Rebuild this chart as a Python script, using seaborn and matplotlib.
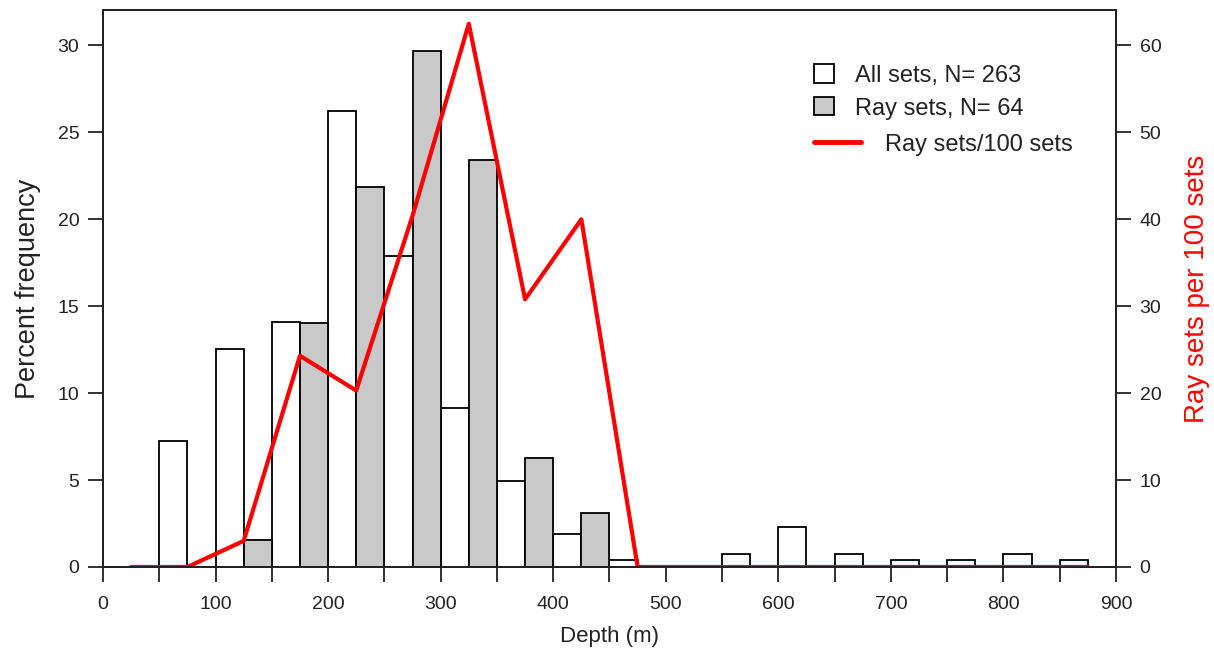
import matplotlib.pyplot as plt
import pandas as pd
import seaborn as sns
from matplotlib.lines import Line2D
from matplotlib.patches import Patch
from matplotlib.ticker import MultipleLocator

# bins are 50 m wide; bar positions are the bin starts
all_bins = [50, 100, 150, 200, 250, 300, 350, 400, 450, 550, 600, 650, 700, 750, 800, 850]
all_pct = [7.22, 12.55, 14.07, 26.24, 17.87, 9.13, 4.94, 1.90, 0.38, 0.76, 2.28, 0.76, 0.38, 0.38, 0.76, 0.38]

ray_bins = [100, 150, 200, 250, 300, 350, 400]
ray_pct = [1.56, 14.06, 21.88, 29.69, 23.44, 6.25, 3.13]

# ray sets per 100 sets, at bin mid points
rate_depth = [25, 75, 125, 175, 225, 275, 325, 375, 425, 475, 525, 575, 625, 675, 725, 775, 825, 875]
rate_val = [0, 0, 3.0, 24.3, 20.3, 40.4, 62.5, 30.8, 40.0, 0, 0, 0, 0, 0, 0, 0, 0, 0]

GREY = "#c9c9c9"
INK = "#222222"

sns.set_style("ticks")
plt.rcParams["font.family"] = ["Liberation Sans", "DejaVu Sans"]

fig = plt.figure(figsize=(12.14, 6.57), dpi=100)
ax = fig.add_axes([0.0848, 0.137, 0.8345, 0.848])

df_all = pd.DataFrame({"x": [b + 12.5 for b in all_bins], "y": all_pct})
df_ray = pd.DataFrame({"x": [b + 37.5 for b in ray_bins], "y": ray_pct})

sns.barplot(data=df_all, x="x", y="y", native_scale=True, width=0.5,
            color="white", edgecolor="black", linewidth=1.3, saturation=1, ax=ax)
sns.barplot(data=df_ray, x="x", y="y", native_scale=True, width=0.5,
            color=GREY, edgecolor="black", linewidth=1.3, saturation=1, ax=ax)

ax.set_xlim(0, 900)
ax.set_ylim(0, 32.05)
ax.xaxis.set_major_locator(MultipleLocator(100))
ax.xaxis.set_minor_locator(MultipleLocator(50))
ax.yaxis.set_major_locator(MultipleLocator(5))
ax.tick_params(axis="both", which="both", direction="out", length=11, width=1.3,
               labelsize=14, color=INK, labelcolor=INK)
ax.tick_params(axis="x", pad=10)
ax.tick_params(axis="y", pad=6)
ax.set_xlabel("Depth (m)", fontsize=16, labelpad=9, color=INK)
ax.set_ylabel("Percent frequency", fontsize=19.5, labelpad=12, color=INK)
for s in ax.spines.values():
    s.set_linewidth(1.4)
    s.set_color(INK)

ax2 = ax.twinx()
df_rate = pd.DataFrame({"x": rate_depth, "y": rate_val})
sns.lineplot(data=df_rate, x="x", y="y", color="red", linewidth=3, ax=ax2)
ax2.set_ylim(0, 64.1)
ax2.yaxis.set_major_locator(MultipleLocator(10))
ax2.tick_params(axis="y", direction="out", length=11, width=1.3, labelsize=14,
                pad=6, color=INK, labelcolor=INK)
ax2.set_ylabel("Ray sets per 100 sets", color="red", fontsize=20, labelpad=16)
ax2.set_xlabel("")
ax2.set_xlim(0, 900)
for s in ax2.spines.values():
    s.set_linewidth(1.4)
    s.set_color(INK)

patches = [Patch(facecolor="white", edgecolor="black", linewidth=1.3, label="All sets, N= 263"),
           Patch(facecolor=GREY, edgecolor="black", linewidth=1.3, label="Ray sets, N= 64")]
leg1 = ax2.legend(handles=patches, loc="upper left", bbox_to_anchor=(0.702, 0.902),
                  frameon=False, fontsize=17, handlelength=0.85, handleheight=0.8,
                  handletextpad=0.9, labelspacing=0.45, borderaxespad=0, borderpad=0)
for t in leg1.get_texts():
    t.set_color(INK)
ax2.add_artist(leg1)
leg2 = ax2.legend(handles=[Line2D([], [], color="red", linewidth=3.5, label="Ray sets/100 sets")],
                  loc="upper left", bbox_to_anchor=(0.702, 0.778), frameon=False, fontsize=17,
                  handlelength=2.0, handletextpad=1.0, borderaxespad=0, borderpad=0)
for t in leg2.get_texts():
    t.set_color(INK)

fig.savefig("out.png", dpi=100)
